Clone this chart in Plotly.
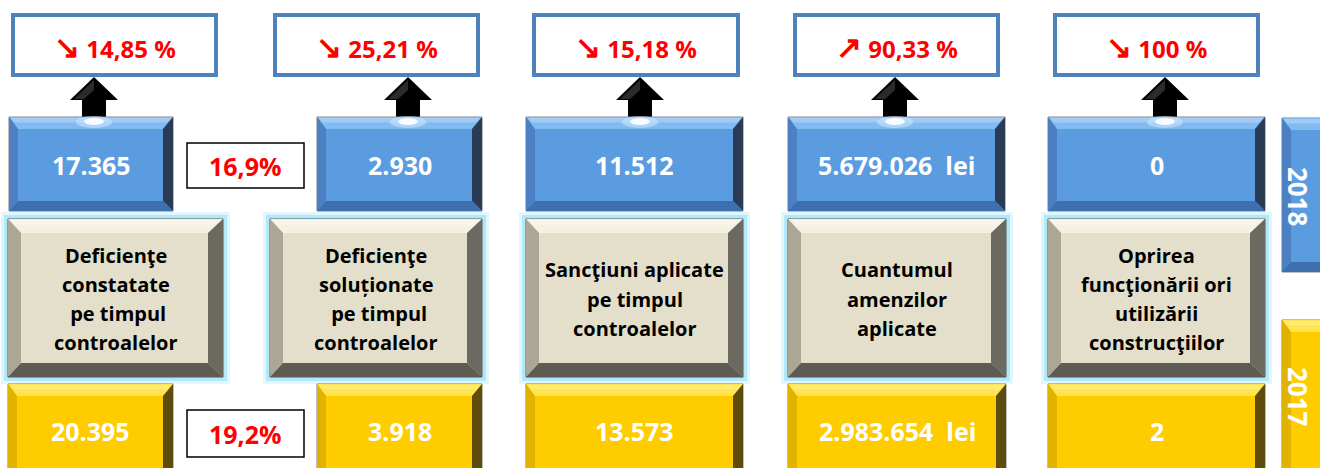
import plotly.graph_objects as go

# ---------------- data ----------------
categories = [
    "Deficienţe<br>constatate<br> pe timpul<br>controalelor",
    "Deficienţe<br>soluționate<br> pe timpul<br>controalelor",
    "Sancţiuni aplicate<br>pe timpul<br>controalelor",
    "Cuantumul<br>amenzilor<br>aplicate",
    "Oprirea<br>funcţionării ori<br>utilizării<br>construcţiilor",
]
values_2018 = [17365, 2930, 11512, 5679026, 0]
values_2017 = [20395, 3918, 13573, 2983654, 2]
units = ["", "", "", "lei", ""]
change_pct = [-14.85, -25.21, -15.18, 90.33, -100]
share_2018 = 16.9
share_2017 = 19.2
years = ["2018", "2017"]

# ---------------- layout geometry (pixels) ----------------
col_top = [(11, 218), (273, 480), (532, 740), (793, 1000), (1053, 1260)]
col_arrow = [94, 408, 640, 895, 1165]
col_blue = [(9, 173), (317, 482), (526, 743), (788, 1005), (1048, 1265)]
col_beige = [(8, 223), (270, 482), (526, 743), (788, 1006), (1048, 1265)]
col_yellow = [(8, 173), (317, 482), (526, 743), (788, 1006), (1048, 1265)]

FONT = "Open Sans, Liberation Sans, Arial, sans-serif"

shapes = []
annotations = []


def rect(x0, y0, x1, y1, fill, line_color=None, lw=0, opacity=1.0):
    shapes.append(dict(type="rect", xref="x", yref="y", x0=x0, x1=x1, y0=y0, y1=y1,
                       fillcolor=fill, opacity=opacity,
                       line=dict(color=line_color or fill, width=lw), layer="above"))


def poly(pts, fill, opacity=1.0):
    d = "M " + " L ".join(f"{x},{y}" for x, y in pts) + " Z"
    shapes.append(dict(type="path", xref="x", yref="y", path=d, fillcolor=fill,
                       opacity=opacity, line=dict(width=0), layer="above"))


def bevel(x0, x1, y0, y1, b, pal, outline="#7f7f7f"):
    bt, bl, br, bb = b
    face, ctop, cleft, cright, cbot = pal
    rect(x0, y0, x1, y1, face, outline, 1)
    poly([(x0, y0), (x1, y0), (x1 - br, y0 + bt), (x0 + bl, y0 + bt)], ctop)
    poly([(x0, y0), (x0 + bl, y0 + bt), (x0 + bl, y1 - bb), (x0, y1)], cleft)
    poly([(x1, y0), (x1, y1), (x1 - br, y1 - bb), (x1 - br, y0 + bt)], cright)
    poly([(x0, y1), (x1, y1), (x1 - br, y1 - bb), (x0 + bl, y1 - bb)], cbot)
    poly([(x0 + 2, y0 + 1), (x1 - 2, y0 + 1), (x1 - br * 0.6, y0 + bt * 0.45),
          (x0 + bl * 0.6, y0 + bt * 0.45)], "rgba(255,255,255,0.25)")


BLUE = ("#5B9BDF", "#82BAF2", "#4C80C2", "#2A3C55", "#3E6FAE")
YELLOW = ("#FFCC00", "#FFE44D", "#E2B200", "#5E4C0C", "#B99200")
BEIGE = ("#E3DFCB", "#F4F1E3", "#ABA794", "#6C6A60", "#5D5B53")


def fmt_int(v):
    return f"{v:,}".replace(",", ".")


def fmt_pct(p):
    return f"{abs(p):g}".replace(".", ",")


def label(x, y, text, size, color, angle=0):
    annotations.append(dict(x=x, y=y, xref="x", yref="y", text=text, showarrow=False,
                            textangle=angle, xanchor="center", yanchor="middle",
                            font=dict(family=FONT, size=size, color=color)))


for i in range(len(categories)):
    # top change box
    tx0, tx1 = col_top[i]
    rect(tx0 + 2, 15, tx1 - 2, 75, "white", "#4F81BD", 4)
    arrow = "↘" if change_pct[i] < 0 else "↗"
    label((tx0 + tx1) / 2, 46,
          f"<b><span style='font-size:31px'>{arrow}</span> {fmt_pct(change_pct[i])} %</b>",
          24, "#FF0000")

    # black arrow up
    ax = col_arrow[i]
    poly([(ax - 12, 118), (ax - 12, 100), (ax - 24, 100), (ax, 77), (ax + 24, 100),
          (ax + 12, 100), (ax + 12, 118)], "#000000")
    poly([(ax, 80), (ax - 20, 99), (ax - 10, 99), (ax, 90)], "#2b2b2b")

    # blue 2018 box
    bx0, bx1 = col_blue[i]
    bevel(bx0, bx1, 117, 211, (12, 9, 10, 10), BLUE)
    shapes.append(dict(type="circle", xref="x", yref="y", x0=ax - 18, x1=ax + 18,
                       y0=116, y1=128, fillcolor="rgba(200,230,255,0.6)",
                       line=dict(width=0), layer="above"))
    shapes.append(dict(type="circle", xref="x", yref="y", x0=ax - 10, x1=ax + 10,
                       y0=118, y1=125, fillcolor="rgba(255,255,255,0.9)",
                       line=dict(width=0), layer="above"))
    txt = fmt_int(values_2018[i]) + (f"  {units[i]}" if units[i] else "")
    label((bx0 + bx1) / 2, 165, f"<b>{txt}</b>", 25, "white")

    # beige category box with glow
    cx0, cx1 = col_beige[i]
    rect(cx0 - 7, 212, cx1 + 7, 384, "rgba(170,230,250,0.35)")
    rect(cx0 - 4, 215, cx1 + 4, 381, "rgba(160,228,250,0.75)")
    bevel(cx0, cx1, 219, 377, (14, 13, 15, 14), BEIGE, "#555555")
    lines = categories[i].split("<br>")
    n = len(lines)
    for k, ln in enumerate(lines):
        yk = 299 + (k - (n - 1) / 2) * 29.3
        label((cx0 + cx1) / 2, yk, f"<b>{ln}</b>", 20, "#000000")

    # yellow 2017 box
    yx0, yx1 = col_yellow[i]
    bevel(yx0, yx1, 384, 480, (12, 9, 10, 10), YELLOW)
    txt = fmt_int(values_2017[i]) + (f"  {units[i]}" if units[i] else "")
    label((yx0 + yx1) / 2, 431, f"<b>{txt}</b>", 25, "white")

# share boxes
rect(187, 143, 304, 188, "white", "#000000", 1.5)
label(245, 166, f"<b>{fmt_pct(share_2018)}%</b>", 25, "#FF0000")
rect(187, 410, 304, 457, "white", "#000000", 1.5)
label(245, 434, f"<b>{fmt_pct(share_2017)}%</b>", 25, "#FF0000")

# year labels
bevel(1282, 1335, 118, 272, (12, 9, 10, 10), BLUE)
label(1298, 196, f"<b>{years[0]}</b>", 26, "white", 90)
bevel(1282, 1335, 320, 480, (12, 9, 10, 10), YELLOW)
label(1298, 397, f"<b>{years[1]}</b>", 26, "white", 90)

fig = go.Figure()
fig.add_trace(go.Scatter(x=[0], y=[0], mode="markers", marker=dict(opacity=0),
                         hoverinfo="skip", showlegend=False))
fig.update_layout(
    width=1320, height=468,
    margin=dict(l=0, r=0, t=0, b=0),
    paper_bgcolor="white", plot_bgcolor="white",
    xaxis=dict(range=[0, 1320], visible=False, fixedrange=True),
    yaxis=dict(range=[468, 0], visible=False, fixedrange=True),
    shapes=shapes, annotations=annotations, showlegend=False,
)
fig.write_html(
    "out.html",
    config={"displayModeBar": False},
    post_script="document.body.style.margin='0';document.body.style.overflow='hidden';",
)
